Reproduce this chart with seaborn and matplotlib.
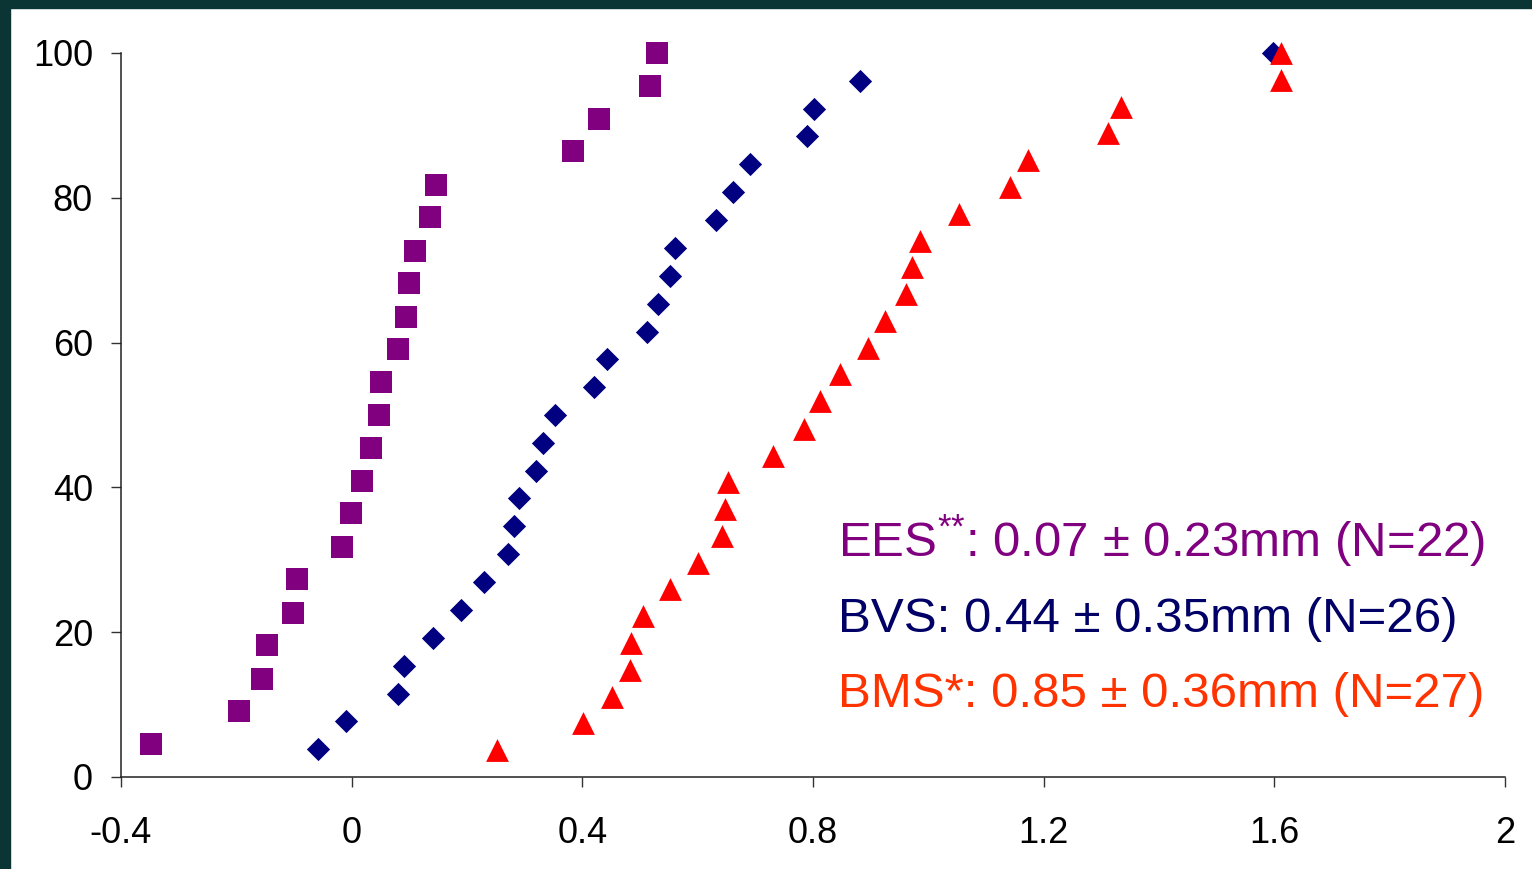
import pandas as pd
import matplotlib.pyplot as plt
from matplotlib.patches import Rectangle
import seaborn as sns

# cumulative distribution of late loss per device group
ees_x = [-0.348, -0.195, -0.156, -0.147, -0.102, -0.095, -0.017, -0.001, 0.018, 0.034, 0.047,
         0.050, 0.080, 0.094, 0.099, 0.110, 0.135, 0.146, 0.383, 0.429, 0.518, 0.529]
ees_y = [4.5, 9.1, 13.6, 18.2, 22.7, 27.3, 31.8, 36.4, 40.9, 45.5, 50.0,
         54.5, 59.1, 63.6, 68.2, 72.7, 77.3, 81.8, 86.4, 90.9, 95.5, 100]

bvs_x = [-0.059, -0.010, 0.081, 0.090, 0.141, 0.190, 0.230, 0.271, 0.281, 0.290, 0.320, 0.331, 0.353,
         0.420, 0.442, 0.512, 0.531, 0.552, 0.561, 0.631, 0.661, 0.691, 0.790, 0.801, 0.882, 1.598]
bvs_y = [3.8, 7.7, 11.5, 15.4, 19.2, 23.1, 26.9, 30.8, 34.6, 38.5, 42.3, 46.2, 50.0,
         53.8, 57.7, 61.5, 65.4, 69.2, 73.1, 76.9, 80.8, 84.6, 88.5, 92.3, 96.2, 100]

bms_x = [0.252, 0.401, 0.452, 0.482, 0.485, 0.506, 0.552, 0.601, 0.642, 0.647, 0.652, 0.731, 0.785, 0.812,
         0.847, 0.896, 0.925, 0.961, 0.972, 0.985, 1.053, 1.142, 1.172, 1.311, 1.334, 1.611, 1.611]
bms_y = [3.7, 7.4, 11.1, 14.8, 18.5, 22.2, 25.9, 29.6, 33.3, 37.0, 40.7, 44.4, 48.1, 51.9,
         55.6, 59.3, 63.0, 66.7, 70.4, 74.1, 77.8, 81.5, 85.2, 88.9, 92.6, 96.3, 100]

x_ticks = [-0.4, 0, 0.4, 0.8, 1.2, 1.6, 2]
x_labels = ['-0.4', '0', '0.4', '0.8', '1.2', '1.6', '2']
y_ticks = [0, 20, 40, 60, 80, 100]

labels = ['EES$^{{*}{*}}$: 0.07 \u00b1 0.23mm (N=22)',
          'BVS: 0.44 \u00b1 0.35mm (N=26)',
          'BMS*: 0.85 \u00b1 0.36mm (N=27)']

sns.set_theme(style='ticks')
plt.rcParams['font.family'] = ['Liberation Sans', 'DejaVu Sans']
plt.rcParams['mathtext.fontset'] = 'custom'
plt.rcParams['mathtext.rm'] = 'Liberation Sans'
plt.rcParams['mathtext.default'] = 'regular'

fig = plt.figure(figsize=(15.32, 8.69), dpi=100, facecolor='white')
ax = fig.add_axes([121 / 1532, 92 / 869, 1384 / 1532, 724 / 869])

# dark teal slide frame on the left and top
fig.patches.append(Rectangle((0, 0), 10 / 1532, 1, transform=fig.transFigure,
                             color='#0b3535', zorder=0))
fig.patches.append(Rectangle((0, 1 - 8 / 869), 1, 8 / 869, transform=fig.transFigure,
                             color='#0b3535', zorder=0))

ees = pd.DataFrame({'x': ees_x, 'y': ees_y})
bvs = pd.DataFrame({'x': bvs_x, 'y': bvs_y})
bms = pd.DataFrame({'x': bms_x, 'y': bms_y})

sns.scatterplot(data=ees, x='x', y='y', marker='s', s=250, color='#800080', linewidth=0,
                clip_on=False, ax=ax)
sns.scatterplot(data=bvs, x='x', y='y', marker='D', s=140, color='#000080', linewidth=0,
                clip_on=False, ax=ax)
sns.scatterplot(data=bms, x='x', y='y', marker='^', s=270, color='#ff0000', linewidth=0,
                clip_on=False, ax=ax)

ax.set_xlim(-0.4, 2)
ax.set_ylim(0, 100)
ax.set_xticks(x_ticks)
ax.set_xticklabels(x_labels)
ax.set_yticks(y_ticks)
ax.set_xlabel('')
ax.set_ylabel('')
ax.tick_params(axis='both', direction='out', length=7.2, width=1, color='#333333',
               labelsize=26, labelcolor='black')
ax.tick_params(axis='y', pad=13)
ax.tick_params(axis='x', pad=21)
sns.despine(ax=ax)
for side in ['left', 'bottom']:
    ax.spines[side].set_color('#222222')
    ax.spines[side].set_linewidth(1.1)
ax.set_facecolor('white')

text_colors = ['#800080', '#000066', '#ff3300']
text_y = [30.4, 20.0, 9.6]
for lab, col, ty in zip(labels, text_colors, text_y):
    ax.text(0.843, ty, lab, color=col, fontsize=35.5, va='baseline', ha='left')

fig.savefig('out.png', dpi=100, facecolor='white')
